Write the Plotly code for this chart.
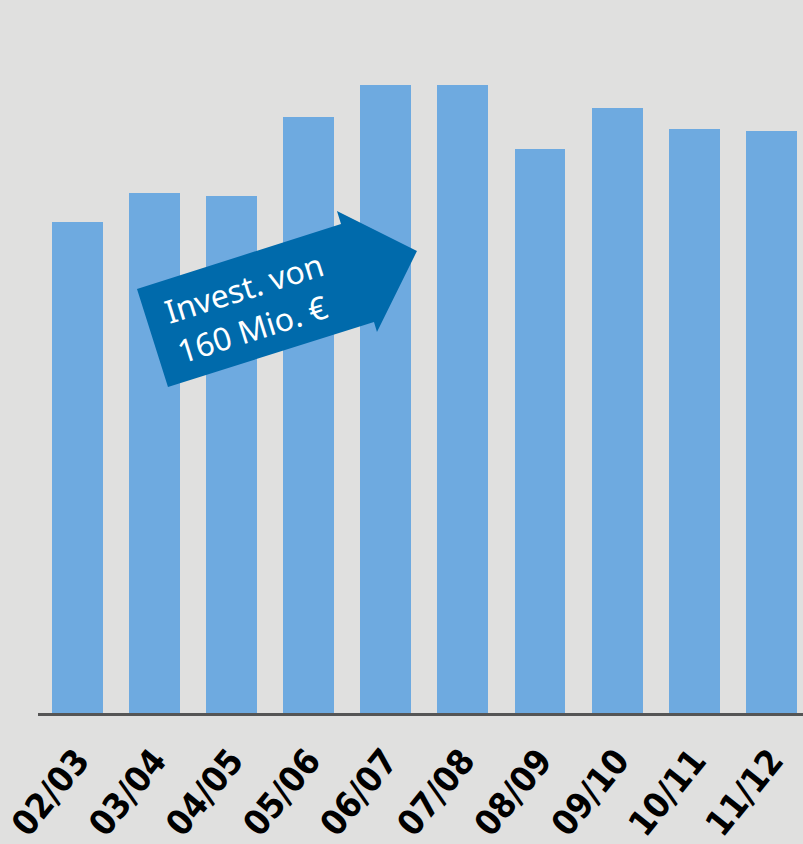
import plotly.graph_objects as go

categories = ["02/03", "03/04", "04/05", "05/06", "06/07", "07/08", "08/09", "09/10", "10/11", "11/12"]
values = [491, 520, 517, 596, 628, 628, 564, 605, 584, 582]
annotation_text = "Invest. von<br>160 Mio. €"

W, H = 803, 844
L, R, T, B = 38, 0, 0, 131
pw, ph = W - L - R, H - T - B

def px(x, y):
    return (x - L) / pw, (H - B - y) / ph

arrow_pts = [(137, 289), (341, 224), (337, 211), (417, 251), (377, 332), (374, 322), (168, 387)]
path = "M " + " L ".join(f"{px(x, y)[0]:.4f},{px(x, y)[1]:.4f}" for x, y in arrow_pts) + " Z"

fig = go.Figure(go.Bar(
    x=list(range(len(categories))), y=values,
    marker=dict(color="#6eaae0", line=dict(width=0)),
    width=0.66,
))

cx, cy = px(250, 307)
fig.add_shape(type="path", path=path, xref="paper", yref="paper",
              fillcolor="#006aab", line=dict(width=0), layer="above")
fig.add_annotation(x=cx, y=cy, xref="paper", yref="paper", text=annotation_text,
                   showarrow=False, textangle=-17.5, align="left",
                   xanchor="center", yanchor="middle",
                   font=dict(family="Noto Sans", size=32, color="white"))

fig.update_layout(
    width=W, height=H,
    margin=dict(l=L, r=R, t=T, b=B, pad=0),
    paper_bgcolor="#e0e0df", plot_bgcolor="#e0e0df",
    showlegend=False,
    bargap=0,
    xaxis=dict(
        range=[-0.51, 9.41],
        tickmode="array", tickvals=list(range(len(categories))), ticktext=categories,
        tickangle=-51, showgrid=False, zeroline=False,
        showline=True, linecolor="#555555", linewidth=3,
        ticks="", ticklen=0, ticklabelstandoff=10, ticklabeloverflow="allow",
        tickfont=dict(family="DejaVu Sans Condensed", size=35, color="black", weight="bold"),
    ),
    yaxis=dict(range=[0, ph], visible=False, showgrid=False, zeroline=False),
)

fig.write_html("out.html", config={"displayModeBar": False},
               post_script="document.body.style.margin='0';document.body.style.padding='0';")
